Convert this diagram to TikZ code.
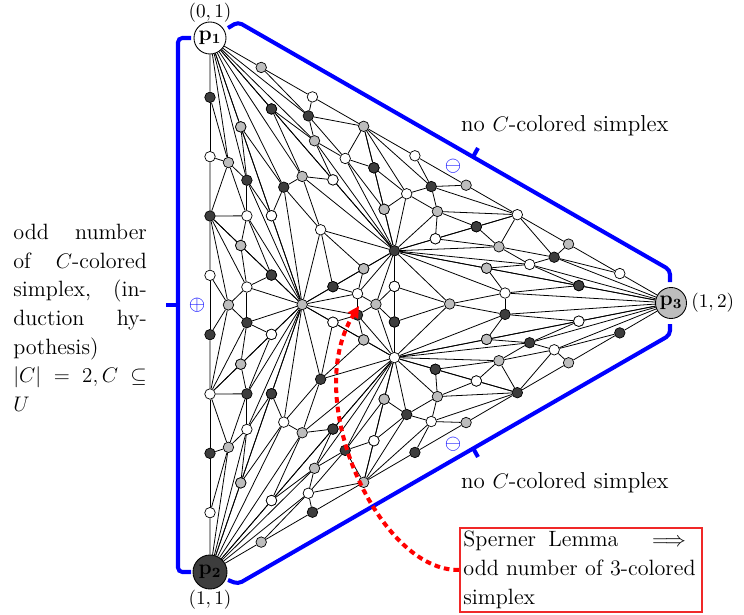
\documentclass[tikz,border=0pt]{standalone}
\usepackage{amsmath,amssymb}
\usetikzlibrary{calc, positioning, arrows.meta}

\colorlet{cw}{white}
\colorlet{cd}{black!76}
\colorlet{cg}{black!26}
\definecolor{boxred}{RGB}{240,40,40}

% nine new vertices of one cell: #1 prefix, #2-#4 corners, #5-#7 their colours
\newcommand{\cellpoints}[7]{%
  \node[vtx, fill=#6] (#1ab1) at ($(#2)!1/3!(#3)$) {};
  \node[vtx, fill=#5] (#1ab2) at ($(#2)!2/3!(#3)$) {};
  \node[vtx, fill=#7] (#1ac1) at ($(#2)!1/3!(#4)$) {};
  \node[vtx, fill=#5] (#1ac2) at ($(#2)!2/3!(#4)$) {};
  \node[vtx, fill=#7] (#1bc1) at ($(#3)!1/3!(#4)$) {};
  \node[vtx, fill=#6] (#1bc2) at ($(#3)!2/3!(#4)$) {};
  \node[vtx, fill=#7] (#1hab) at ($0.4*(#2)+0.4*(#3)+0.2*(#4)$) {};
  \node[vtx, fill=#6] (#1hac) at ($0.4*(#2)+0.2*(#3)+0.4*(#4)$) {};
  \node[vtx, fill=#5] (#1hbc) at ($0.2*(#2)+0.4*(#3)+0.4*(#4)$) {};
}
% the 24 edges of one cell
\newcommand{\celledges}[4]{%
  \foreach \ea/\eb in {#2/#1ab1, #1ab1/#1ab2, #1ab2/#3, #2/#1ac1, #1ac1/#1ac2, #1ac2/#4,
      #3/#1bc1, #1bc1/#1bc2, #1bc2/#4, #2/#1hab, #2/#1hac, #1ab1/#1hab, #1ab2/#1hab,
      #3/#1hab, #3/#1hbc, #1bc1/#1hbc, #1bc2/#1hbc, #4/#1hbc, #4/#1hac, #1ac2/#1hac,
      #1ac1/#1hac, #1hab/#1hac, #1hab/#1hbc, #1hac/#1hbc}
    \draw[edge] (\ea) -- (\eb);
}

\begin{document}
\begin{tikzpicture}[x=0.02cm, y=-0.02cm,
    vtx/.style={circle, draw, line width=0.4pt, inner sep=0pt, minimum size=0.21cm},
    corner/.style={circle, draw, line width=0.5pt, inner sep=0pt, font=\large},
    edge/.style={line width=0.45pt},
    bracket/.style={blue, line width=2.3pt, rounded corners=2.5pt},
    sign/.style={blue, font=\large},
    lab/.style={font=\fontsize{11}{13}\selectfont},
    txt/.style={font=\fontsize{12.6}{16.3}\selectfont}]
  \useasboundingbox (0,0) rectangle (744,615);

  % corners of the big triangle
  \node[corner, fill=cw, minimum size=0.64cm] (P1) at (210,38) {$\mathbf{p_1}$};
  \node[corner, fill=cd, minimum size=0.68cm] (P2) at (210,572) {$\mathbf{p_2}$};
  \node[corner, fill=cg, minimum size=0.62cm] (P3) at (671,303) {$\mathbf{p_3}$};
  \node[lab, above=-4pt of P1] (P1lab) {$(0,1)$};
  \node[lab, below=-3pt of P2] (P2lab) {$(1,1)$};
  \node[lab, right=-1pt of P3] (P3lab) {$(1,2)$};

  % first subdivision, then each of its 13 cells once more
  \cellpoints{q-}{P1}{P2}{P3}{cw}{cd}{cg}
  \foreach \n/\pa/\pb/\pc/\ka/\kb/\kc in {1/P1/q-ab1/q-hab/cw/cd/cg, 2/P1/q-hab/q-hac/cw/cg/cd,
      3/P1/q-hac/q-ac1/cw/cd/cg, 4/q-ac1/q-hac/q-ac2/cg/cd/cw, 5/q-ac2/q-hac/P3/cw/cd/cg,
      6/q-hac/q-hbc/P3/cd/cw/cg, 7/q-hac/q-hab/q-hbc/cd/cg/cw, 8/P3/q-hbc/q-bc2/cg/cw/cd,
      9/q-bc2/q-hbc/q-bc1/cd/cw/cg, 10/q-bc1/q-hbc/P2/cg/cw/cd, 11/q-hbc/q-hab/P2/cw/cg/cd,
      12/q-hab/q-ab2/P2/cg/cw/cd, 13/q-hab/q-ab1/q-ab2/cg/cd/cw}{
    \cellpoints{s\n-}{\pa}{\pb}{\pc}{\ka}{\kb}{\kc}
    \celledges{s\n-}{\pa}{\pb}{\pc}
  }

  % brackets along the three sides
  \draw[bracket] (191,38) -- (178,38) -- (178,572) -- (191,572);
  \draw[bracket] (166,305) -- (178,305);
  \draw[bracket] (228,28) -- (238,22) -- (670,270) -- (670,282);
  \draw[bracket] (473,157) -- (478,148);
  \draw[bracket] (670,324) -- (670,335) -- (238,584) -- (228,580);
  \draw[bracket] (473,448) -- (478,457);
  \node[sign] (plus) at (197,305) {$\oplus$};
  \node[sign] (minustop) at (453,166) {$\ominus$};
  \node[sign] (minusbot) at (453,444) {$\ominus$};

  % texts
  \node[font=\fontsize{13.1}{16.3}\selectfont, anchor=west] (notop) at (455,126) {no $C$-colored simplex};
  \node[font=\fontsize{13.1}{16.3}\selectfont, anchor=west] (nobot) at (455,483) {no $C$-colored simplex};
  \node[txt, anchor=north west, text width=76pt, inner sep=0pt, align=left] (hyp) at (13,224)
    {odd\hfill number\\ of\hfill $C$-colored\\ simplex,\hfill (in-\\ duction\hfill hy-\\ pothesis)\\
     $|C|\hfill=\hfill 2,C\hfill\subseteq$\\ $U$};
  \node[txt, draw=boxred, line width=0.9pt, anchor=north west, text width=134pt,
    inner sep=2pt, align=left] (sperner) at (459,527)
    {Sperner\hspace{0.55em}Lemma\hfill$\implies$\rule{4pt}{0pt}\\ odd number of 3-colored\\ simplex};

  % pointer to a 3-coloured cell
  \coordinate (aim) at (359,306);
  \draw[red, line width=2.3pt, dash pattern=on 3.2pt off 2.3pt, -{Triangle[length=6.5pt,width=6.5pt]}]
    (sperner.west) .. controls (380,572) and (300,400) .. (aim);
\end{tikzpicture}
\end{document}
